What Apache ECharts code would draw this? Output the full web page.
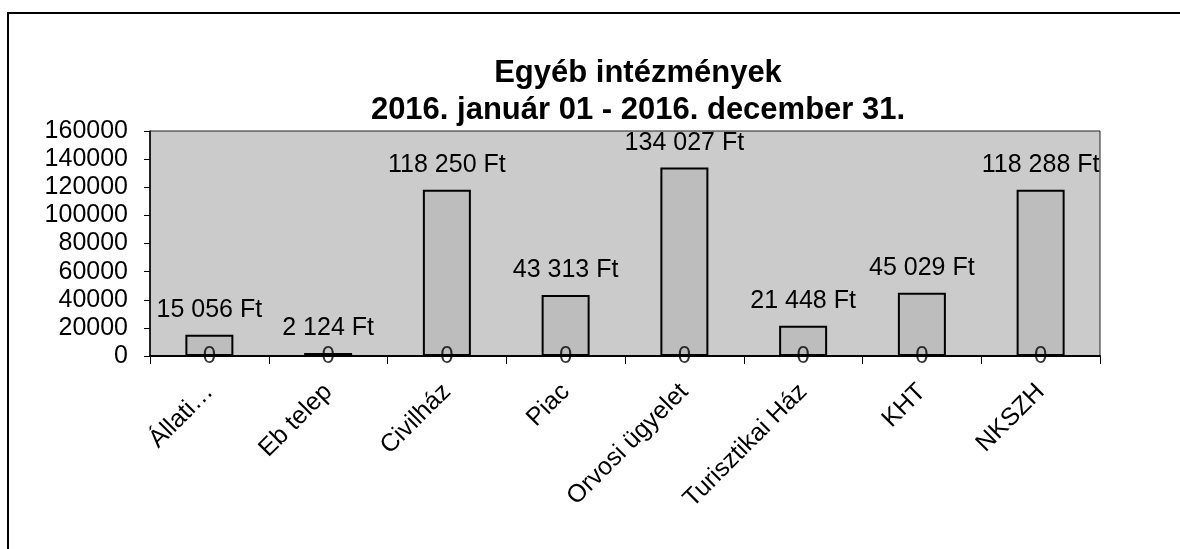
<!DOCTYPE html>
<html>
<head>
<meta charset="utf-8">
<title>Egyéb intézmények</title>
<script src="https://cdn.jsdelivr.net/npm/echarts@6/dist/echarts.min.js"></script>
<style>
  html, body { margin: 0; padding: 0; background: #ffffff; }
  #chart { width: 1180px; height: 549px; }
</style>
</head>
<body>
<div id="chart"></div>
<script>
// Institutions shown on the category axis
var categories = ['Állati…', 'Eb telep', 'Civilház', 'Piac', 'Orvosi ügyelet', 'Turisztikai Ház', 'KHT', 'NKSZH'];
// Yearly cost per institution, in HUF
var costs = [15056, 2124, 118250, 43313, 134027, 21448, 45029, 118288];
// Companion series, all zero, labelled at the baseline
var zeroSeries = [0, 0, 0, 0, 0, 0, 0, 0];
// Value axis range
var yMin = 0, yMax = 160000, yStep = 20000;
// Title lines
var titleLines = ['Egyéb intézmények', '2016. január 01 - 2016. december 31.'];

var FONT = '"Liberation Sans", Arial, sans-serif';

function formatFt(v) {
  return String(v).replace(/\B(?=(\d{3})+(?!\d))/g, ' ') + ' Ft';
}

var chart = echarts.init(document.getElementById('chart'), null, { renderer: 'canvas' });

chart.setOption({
  backgroundColor: '#ffffff',
  animation: false,
  graphic: [{
    // frame around the chart object (left and top edges fall inside the page)
    type: 'polyline',
    shape: { points: [[8, 560], [8, 13], [1190, 13]] },
    style: { fill: 'none', stroke: '#000', lineWidth: 2 },
    silent: true
  }, {
    type: 'text',
    x: 638,
    y: 73,
    style: {
      text: titleLines[0],
      fontFamily: FONT,
      fontWeight: 'bold',
      fontSize: 31,
      fill: '#000',
      align: 'center',
      verticalAlign: 'middle'
    },
    silent: true
  }, {
    type: 'text',
    x: 638,
    y: 110,
    style: {
      text: titleLines[1],
      fontFamily: FONT,
      fontWeight: 'bold',
      fontSize: 31,
      fill: '#000',
      align: 'center',
      verticalAlign: 'middle'
    },
    silent: true
  }],
  grid: {
    left: 150,
    right: 80,
    top: 131,
    bottom: 193,
    show: true,
    backgroundColor: '#cbcbcb',
    borderColor: '#222',
    borderWidth: 1
  },
  xAxis: {
    type: 'category',
    data: categories,
    boundaryGap: true,
    axisLine: { lineStyle: { color: '#000', width: 2 } },
    axisTick: { show: true, length: 8, lineStyle: { color: '#000', width: 1 } },
    axisLabel: {
      rotate: 45,
      margin: 32,
      fontFamily: FONT,
      fontSize: 25,
      color: '#000',
      interval: 0
    }
  },
  yAxis: {
    type: 'value',
    min: yMin,
    max: yMax,
    interval: yStep,
    splitLine: { show: false },
    axisLine: { show: true, lineStyle: { color: '#000', width: 1.5 } },
    axisTick: { show: true, length: 6, lineStyle: { color: '#000', width: 1 } },
    axisLabel: {
      margin: 22,
      fontFamily: FONT,
      fontSize: 25,
      color: '#000',
      formatter: function (v) { return String(v); }
    }
  },
  series: [{
    type: 'bar',
    data: costs,
    barWidth: 48,
    itemStyle: { color: '#bdbdbd', borderColor: '#000', borderWidth: 2 },
    label: {
      show: true,
      position: 'top',
      distance: 12,
      fontFamily: FONT,
      fontSize: 25,
      color: '#000',
      formatter: function (p) { return formatFt(p.value); }
    },
    z: 2
  }, {
    type: 'scatter',
    data: zeroSeries,
    symbolSize: 1,
    itemStyle: { color: 'rgba(0,0,0,0)' },
    label: {
      show: true,
      position: 'inside',
      fontFamily: FONT,
      fontSize: 24,
      color: '#000',
      formatter: function (p) { return String(p.value); }
    },
    z: 3
  }]
});
</script>
</body>
</html>
